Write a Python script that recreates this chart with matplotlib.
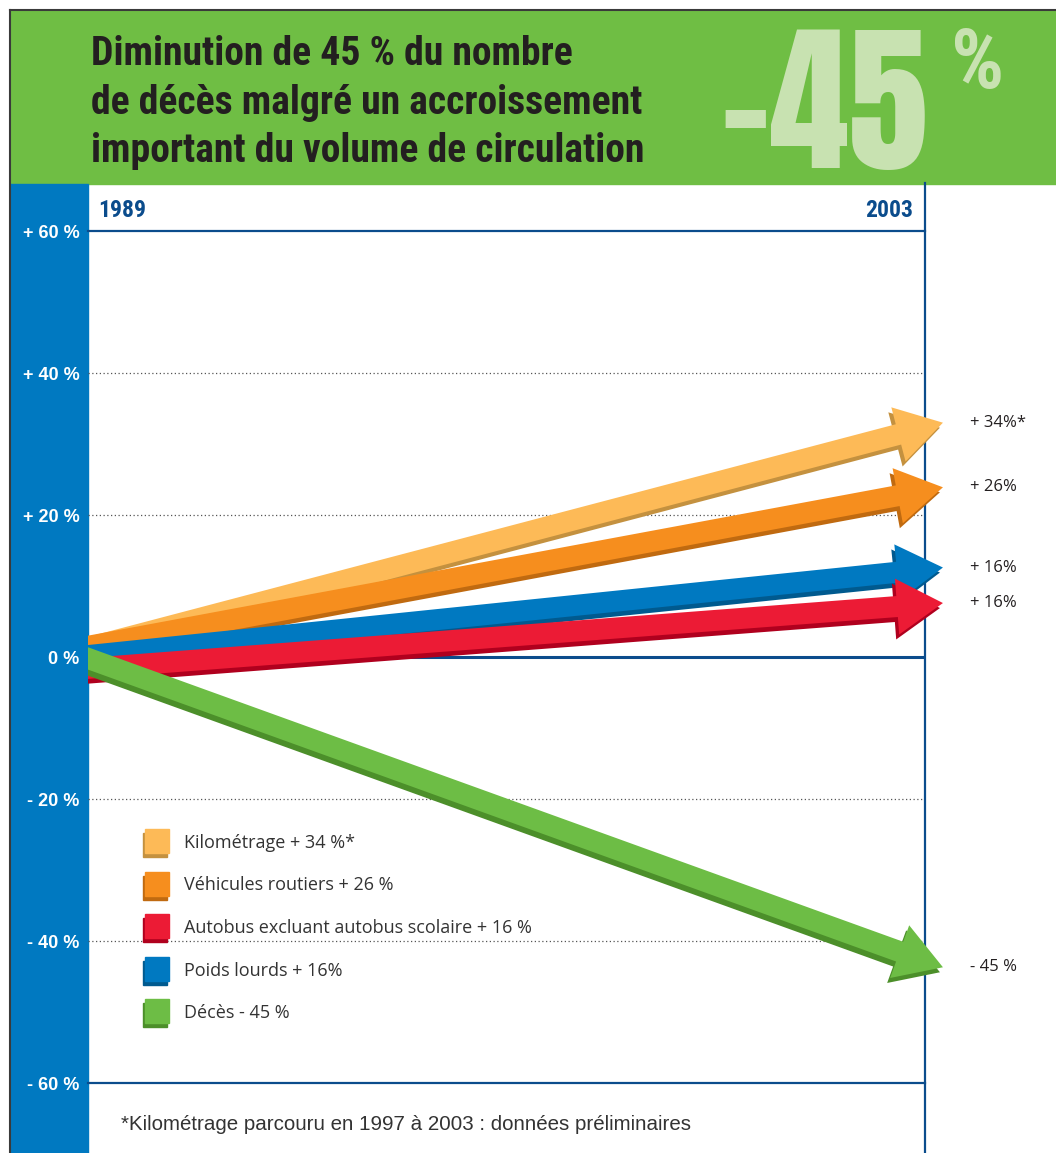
import numpy as np
import matplotlib
matplotlib.use('Agg')
import matplotlib.pyplot as plt
from matplotlib.patches import Polygon, Rectangle
from matplotlib.lines import Line2D
from matplotlib.transforms import Bbox

# donnees (ordre de la legende)
years = [1989, 2003]
series = ['Kilométrage + 34 %*', 'Véhicules routiers + 26 %',
          'Autobus excluant autobus scolaire + 16 %', 'Poids lourds + 16%',
          'Décès - 45 %']
end_labels = ['+ 34%*', '+ 26%', '+ 16%', '+ 16%', '- 45 %']
# position des fleches (en %) au depart et a la pointe
start_pct = [1.3, 1.5, -1.6, 0.2, -0.2]
end_pct = [33.0, 23.9, 7.6, 12.6, -43.7]
tip_year = 2003.3
colors = ['#fdba57', '#f68e1e', '#ec1b35', '#0079c1', '#6dbd45']
shades = ['#c4913f', '#c06a10', '#b0001e', '#005a8f', '#4c8f2a']
draw_order = [0, 1, 3, 2, 4]
yticks = [60, 40, 20, 0, -20, -40, -60]
ytick_labels = ['+ 60 %', '+ 40 %', '+ 20 %', '0 %', '- 20 %', '- 40 %', '- 60 %']
grid_vals = [40, 20, -20, -40]

cond = ['Roboto Condensed', 'Liberation Sans', 'DejaVu Sans']
big = ['Anton', 'Oswald', 'Roboto Condensed', 'Liberation Sans', 'DejaVu Sans']
arial = ['Liberation Sans', 'DejaVu Sans']
soft = ['Open Sans', 'Liberation Sans', 'DejaVu Sans']
navy = '#0b4c8c'
dark = '#231f20'

W, H = 1056, 1153
fig = plt.figure(figsize=(W / 100, H / 100), dpi=100)
fig.patch.set_facecolor('white')


def fx(px):
    return px / W


def fy(py):
    return 1 - py / H


# bandeau vert et bande bleue
fig.patches.append(Rectangle((fx(10), fy(184)), fx(1056) - fx(10), fy(10) - fy(184),
                             transform=fig.transFigure, color='#6fbe44', zorder=-2))
fig.patches.append(Rectangle((fx(10), 0), fx(88) - fx(10), fy(184),
                             transform=fig.transFigure, color='#0079c1', zorder=-2))
fig.lines.append(Line2D([fx(10), fx(10)], [0, fy(10)], transform=fig.transFigure,
                        color='#3a3a3a', lw=1.5, zorder=-1))
fig.lines.append(Line2D([fx(10), 1], [fy(10), fy(10)], transform=fig.transFigure,
                        color='#3a3a3a', lw=1.5, zorder=-1))

# titre
title_lines = ['Diminution de 45 % du nombre',
               'de décès malgré un accroissement',
               'important du volume de circulation']
for k, line in enumerate(title_lines):
    fig.text(fx(91), fy(65 + 48.5 * k), line, fontsize=28.5, weight='bold',
             family=cond, color=dark, va='baseline')
fig.text(fx(720), fy(168), '-45', fontsize=115, weight='bold', family=big,
         color='#c8e2b1', va='baseline')
fig.text(fx(951), fy(88), '%', fontsize=60, weight='bold', family=cond,
         color='#c8e2b1', va='baseline')

# axes
ax = fig.add_axes([fx(88), fy(1083), fx(925) - fx(88), fy(231) - fy(1083)])
ax.set_xlim(years[0], years[1])
ax.set_ylim(-60, 60)
ax.patch.set_alpha(0)
ax.spines['left'].set_visible(False)
ax.spines['right'].set_visible(False)
for s in ['top', 'bottom']:
    ax.spines[s].set_color(navy)
    ax.spines[s].set_linewidth(1.6)
ax.set_xticks([])
ax.set_yticks(yticks, ytick_labels)
ax.tick_params(axis='y', length=0, pad=6, labelcolor='white', labelsize=13)
for lbl in ax.get_yticklabels():
    lbl.set_fontweight('bold')
    lbl.set_family(arial)

for v in grid_vals:
    ax.axhline(v, color='#555555', lw=0.9, ls=(0, (1, 2)), zorder=1)
ax.axhline(0, color=navy, lw=2.2, zorder=2)
ax.axvline(years[1], ymin=-0.083, ymax=1.056, color=navy, lw=1.6, clip_on=False)

ax.annotate(str(years[0]), xy=(years[0], 60), xytext=(10, 14), textcoords='offset pixels',
            ha='left', va='baseline', fontsize=17, weight='bold', family=cond, color=navy)
ax.annotate(str(years[1]), xy=(years[1], 60), xytext=(-12, 14), textcoords='offset pixels',
            ha='right', va='baseline', fontsize=17, weight='bold', family=cond, color=navy)

# fleches
w, hw, hl = 21, 56, 46
clip = Bbox.from_extents(ax.transData.transform((years[0], 0))[0], 0, W, H)
inv = ax.transData.inverted()
for z, i in enumerate(draw_order):
    p0 = ax.transData.transform((years[0], start_pct[i]))
    p1 = ax.transData.transform((tip_year, end_pct[i]))
    d = (p1 - p0) / np.hypot(*(p1 - p0))
    n = np.array([-d[1], d[0]])
    p0 = p0 - d * 20
    pb = p1 - d * hl
    pts = np.array([p0 + n * w / 2, pb + n * w / 2, pb + n * hw / 2, p1,
                    pb - n * hw / 2, pb - n * w / 2, p0 - n * w / 2])
    for off, c in [((-3, -5), shades[i]), ((0, 0), colors[i])]:
        poly = Polygon(inv.transform(pts + np.array(off)), closed=True,
                       facecolor=c, edgecolor='none', zorder=3 + z)
        ax.add_patch(poly)
        poly.set_clip_path(None)
        poly.set_clip_box(clip)
    ax.annotate(end_labels[i], xy=(years[1], end_pct[i]), xytext=(45, 0),
                textcoords='offset pixels', ha='left', va='center', fontsize=12,
                family=soft, color=dark, annotation_clip=False)

# legende
for i, lab in enumerate(series):
    yc = 843 + 42.5 * i
    fig.patches.append(Rectangle((fx(143), fy(yc + 14)), 24 / W, 24 / H,
                                 transform=fig.transFigure, color=shades[i], zorder=5))
    fig.patches.append(Rectangle((fx(145), fy(yc + 10)), 24 / W, 24 / H,
                                 transform=fig.transFigure, color=colors[i], zorder=5))
    fig.text(fx(184), fy(yc), lab, fontsize=13, family=soft, color='#333333', va='center')

fig.text(fx(121), fy(1125), '*Kilométrage parcouru en 1997 à 2003 : données préliminaires',
         fontsize=14.8, family=arial, color='#333333', va='center')

fig.savefig('out.png', dpi=100)
